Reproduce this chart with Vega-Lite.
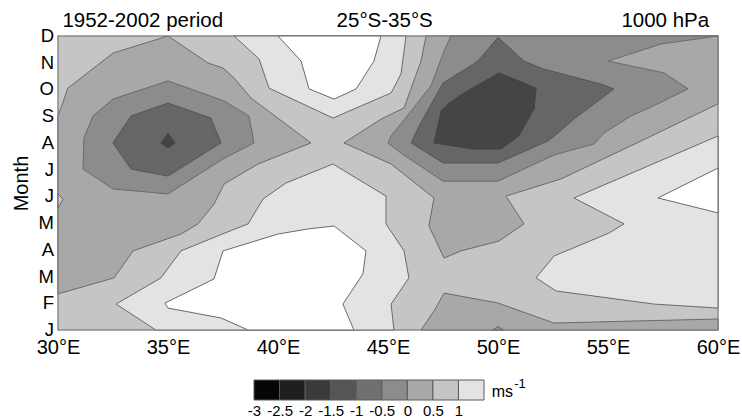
{
  "$schema": "https://vega.github.io/schema/vega-lite/v6.json",
  "padding": {"left": 10, "top": 10, "right": 2, "bottom": 2},
  "bounds": "flush",
  "spacing": 50,
  "config": {"font": "Liberation Sans", "background": "white", "axis": {"labelColor": "#000", "titleColor": "#000"}},
  "resolve": {"scale": {"x": "independent", "fill": "independent"}},
  "datasets": {
    "months": [
      {"m":0,"month":"J"},{"m":1,"month":"F"},{"m":2,"month":"M"},{"m":3,"month":"A"},
      {"m":4,"month":"M"},{"m":5,"month":"J"},{"m":6,"month":"J"},{"m":7,"month":"A"},
      {"m":8,"month":"S"},{"m":9,"month":"O"},{"m":10,"month":"N"},{"m":11,"month":"D"}
    ],
    "contours": [
      {"poly":"c3L","level":0,"i":0,"lon":30,"m":8},
      {"poly":"c3L","level":0,"i":1,"lon":30.45,"m":9.05},
      {"poly":"c3L","level":0,"i":2,"lon":32.5,"m":10.36},
      {"poly":"c3L","level":0,"i":3,"lon":35,"m":11},
      {"poly":"c3L","level":0,"i":4,"lon":36.82,"m":9.99},
      {"poly":"c3L","level":0,"i":5,"lon":37.5,"m":9.8},
      {"poly":"c3L","level":0,"i":6,"lon":38,"m":9.43},
      {"poly":"c3L","level":0,"i":7,"lon":38.77,"m":8.68},
      {"poly":"c3L","level":0,"i":8,"lon":41.5,"m":7.0},
      {"poly":"c3L","level":0,"i":9,"lon":39.09,"m":6.21},
      {"poly":"c3L","level":0,"i":10,"lon":37.55,"m":5.46},
      {"poly":"c3L","level":0,"i":11,"lon":37.09,"m":4.71},
      {"poly":"c3L","level":0,"i":12,"lon":36.36,"m":3.97},
      {"poly":"c3L","level":0,"i":13,"lon":35.59,"m":3.59},
      {"poly":"c3L","level":0,"i":14,"lon":33.41,"m":2.96},
      {"poly":"c3L","level":0,"i":15,"lon":32.55,"m":1.95},
      {"poly":"c3L","level":0,"i":16,"lon":30,"m":1.35},

      {"poly":"c3R","level":0,"i":0,"lon":46.73,"m":11},
      {"poly":"c3R","level":0,"i":1,"lon":46.5,"m":10.06},
      {"poly":"c3R","level":0,"i":2,"lon":45.73,"m":8.31},
      {"poly":"c3R","level":0,"i":3,"lon":44.68,"m":7.89},
      {"poly":"c3R","level":0,"i":4,"lon":43,"m":7.0},
      {"poly":"c3R","level":0,"i":5,"lon":45.14,"m":6.21},
      {"poly":"c3R","level":0,"i":6,"lon":47.09,"m":4.94},
      {"poly":"c3R","level":0,"i":7,"lon":46.86,"m":3.89},
      {"poly":"c3R","level":0,"i":8,"lon":47.55,"m":2.69},
      {"poly":"c3R","level":0,"i":9,"lon":48.32,"m":2.96},
      {"poly":"c3R","level":0,"i":10,"lon":50.05,"m":3.33},
      {"poly":"c3R","level":0,"i":11,"lon":51.18,"m":3.97},
      {"poly":"c3R","level":0,"i":12,"lon":50.36,"m":5.01},
      {"poly":"c3R","level":0,"i":13,"lon":52.86,"m":5.65},
      {"poly":"c3R","level":0,"i":14,"lon":56.5,"m":7.07},
      {"poly":"c3R","level":0,"i":15,"lon":60,"m":8.46},
      {"poly":"c3R","level":0,"i":16,"lon":60,"m":11},

      {"poly":"c3B","level":0,"i":0,"lon":46.5,"m":0},
      {"poly":"c3B","level":0,"i":1,"lon":47.09,"m":0.71},
      {"poly":"c3B","level":0,"i":2,"lon":47.55,"m":1.38},
      {"poly":"c3B","level":0,"i":3,"lon":50,"m":1.01},
      {"poly":"c3B","level":0,"i":4,"lon":52.55,"m":0.26},
      {"poly":"c3B","level":0,"i":5,"lon":56.36,"m":0.34},
      {"poly":"c3B","level":0,"i":6,"lon":60,"m":0.41},
      {"poly":"c3B","level":0,"i":7,"lon":60,"m":0},

      {"poly":"c1U","level":1,"i":0,"lon":38,"m":11},
      {"poly":"c1U","level":1,"i":1,"lon":39.14,"m":10.14},
      {"poly":"c1U","level":1,"i":2,"lon":39.59,"m":9.05},
      {"poly":"c1U","level":1,"i":3,"lon":42.5,"m":7.93},
      {"poly":"c1U","level":1,"i":4,"lon":45.14,"m":8.87},
      {"poly":"c1U","level":1,"i":5,"lon":45.59,"m":9.58},
      {"poly":"c1U","level":1,"i":6,"lon":45.82,"m":11},

      {"poly":"c1D","level":1,"i":0,"lon":34.45,"m":0},
      {"poly":"c1D","level":1,"i":1,"lon":32.64,"m":0.97},
      {"poly":"c1D","level":1,"i":2,"lon":34.68,"m":1.95},
      {"poly":"c1D","level":1,"i":3,"lon":35.59,"m":2.96},
      {"poly":"c1D","level":1,"i":4,"lon":37.59,"m":3.63},
      {"poly":"c1D","level":1,"i":5,"lon":38.64,"m":3.97},
      {"poly":"c1D","level":1,"i":6,"lon":39.32,"m":4.9},
      {"poly":"c1D","level":1,"i":7,"lon":40.36,"m":5.5},
      {"poly":"c1D","level":1,"i":8,"lon":42.5,"m":6.21},
      {"poly":"c1D","level":1,"i":9,"lon":44.91,"m":5.01},
      {"poly":"c1D","level":1,"i":10,"lon":44.91,"m":3.97},
      {"poly":"c1D","level":1,"i":11,"lon":45.73,"m":2.96},
      {"poly":"c1D","level":1,"i":12,"lon":45.95,"m":1.95},
      {"poly":"c1D","level":1,"i":13,"lon":45.14,"m":0.97},
      {"poly":"c1D","level":1,"i":14,"lon":45.27,"m":0},

      {"poly":"c1R","level":1,"i":0,"lon":60,"m":7.26},
      {"poly":"c1R","level":1,"i":1,"lon":53.45,"m":4.94},
      {"poly":"c1R","level":1,"i":2,"lon":55.73,"m":3.97},
      {"poly":"c1R","level":1,"i":3,"lon":55.05,"m":3.63},
      {"poly":"c1R","level":1,"i":4,"lon":52.55,"m":2.77},
      {"poly":"c1R","level":1,"i":5,"lon":51.73,"m":1.95},
      {"poly":"c1R","level":1,"i":6,"lon":52.64,"m":1.46},
      {"poly":"c1R","level":1,"i":7,"lon":57.09,"m":0.97},
      {"poly":"c1R","level":1,"i":8,"lon":60,"m":0.82},

      {"poly":"c4L","level":-0.5,"i":0,"lon":35,"m":9.32},
      {"poly":"c4L","level":-0.5,"i":1,"lon":37.55,"m":8.57},
      {"poly":"c4L","level":-0.5,"i":2,"lon":38.68,"m":8.01},
      {"poly":"c4L","level":-0.5,"i":3,"lon":38.91,"m":7.0},
      {"poly":"c4L","level":-0.5,"i":4,"lon":37.5,"m":6.4},
      {"poly":"c4L","level":-0.5,"i":5,"lon":35,"m":5.09},
      {"poly":"c4L","level":-0.5,"i":6,"lon":32.5,"m":5.28},
      {"poly":"c4L","level":-0.5,"i":7,"lon":31.14,"m":6.02},
      {"poly":"c4L","level":-0.5,"i":8,"lon":31.18,"m":7.18},
      {"poly":"c4L","level":-0.5,"i":9,"lon":31.59,"m":8.01},
      {"poly":"c4L","level":-0.5,"i":10,"lon":32.5,"m":8.64},

      {"poly":"c4R","level":-0.5,"i":0,"lon":47.86,"m":11},
      {"poly":"c4R","level":-0.5,"i":1,"lon":47.55,"m":10.44},
      {"poly":"c4R","level":-0.5,"i":2,"lon":46.95,"m":9.13},
      {"poly":"c4R","level":-0.5,"i":3,"lon":46.05,"m":8.19},
      {"poly":"c4R","level":-0.5,"i":4,"lon":45.14,"m":7.26},
      {"poly":"c4R","level":-0.5,"i":5,"lon":45,"m":7.0},
      {"poly":"c4R","level":-0.5,"i":6,"lon":45.59,"m":6.62},
      {"poly":"c4R","level":-0.5,"i":7,"lon":47.5,"m":5.57},
      {"poly":"c4R","level":-0.5,"i":8,"lon":50,"m":5.57},
      {"poly":"c4R","level":-0.5,"i":9,"lon":52.55,"m":6.55},
      {"poly":"c4R","level":-0.5,"i":10,"lon":54.36,"m":6.96},
      {"poly":"c4R","level":-0.5,"i":11,"lon":54.82,"m":7.37},
      {"poly":"c4R","level":-0.5,"i":12,"lon":56.05,"m":8.01},
      {"poly":"c4R","level":-0.5,"i":13,"lon":56.95,"m":8.34},
      {"poly":"c4R","level":-0.5,"i":14,"lon":58.64,"m":9.02},
      {"poly":"c4R","level":-0.5,"i":15,"lon":57.55,"m":9.62},
      {"poly":"c4R","level":-0.5,"i":16,"lon":55,"m":10.06},
      {"poly":"c4R","level":-0.5,"i":17,"lon":57.41,"m":10.7},
      {"poly":"c4R","level":-0.5,"i":18,"lon":60,"m":11},

      {"poly":"c4B","level":-0.5,"i":0,"lon":49.75,"m":0},
      {"poly":"c4B","level":-0.5,"i":1,"lon":50,"m":0.13},
      {"poly":"c4B","level":-0.5,"i":2,"lon":50.25,"m":0},

      {"poly":"wU","level":1.5,"i":0,"lon":40,"m":11},
      {"poly":"wU","level":1.5,"i":1,"lon":41.05,"m":10.06},
      {"poly":"wU","level":1.5,"i":2,"lon":41.41,"m":9.02},
      {"poly":"wU","level":1.5,"i":3,"lon":42.55,"m":8.64},
      {"poly":"wU","level":1.5,"i":4,"lon":43.55,"m":9.02},
      {"poly":"wU","level":1.5,"i":5,"lon":44.36,"m":10.06},
      {"poly":"wU","level":1.5,"i":6,"lon":44.68,"m":11},

      {"poly":"wD","level":1.5,"i":0,"lon":38.64,"m":0},
      {"poly":"wD","level":1.5,"i":1,"lon":37.41,"m":0.45},
      {"poly":"wD","level":1.5,"i":2,"lon":35,"m":0.82},
      {"poly":"wD","level":1.5,"i":3,"lon":34.86,"m":1.01},
      {"poly":"wD","level":1.5,"i":4,"lon":37.09,"m":1.91},
      {"poly":"wD","level":1.5,"i":5,"lon":37.5,"m":2.96},
      {"poly":"wD","level":1.5,"i":6,"lon":40,"m":3.59},
      {"poly":"wD","level":1.5,"i":7,"lon":41.36,"m":3.78},
      {"poly":"wD","level":1.5,"i":8,"lon":42.55,"m":3.89},
      {"poly":"wD","level":1.5,"i":9,"lon":44,"m":2.96},
      {"poly":"wD","level":1.5,"i":10,"lon":43.86,"m":2.1},
      {"poly":"wD","level":1.5,"i":11,"lon":42.95,"m":0.97},
      {"poly":"wD","level":1.5,"i":12,"lon":43.45,"m":0},

      {"poly":"wR","level":1.5,"i":0,"lon":60,"m":6.06},
      {"poly":"wR","level":1.5,"i":1,"lon":57.27,"m":4.94},
      {"poly":"wR","level":1.5,"i":2,"lon":60,"m":4.38},

      {"poly":"n2","level":0.5,"i":0,"lon":30,"m":5.09},
      {"poly":"n2","level":0.5,"i":1,"lon":30.23,"m":4.9},
      {"poly":"n2","level":0.5,"i":2,"lon":30,"m":4.56},

      {"poly":"c5L","level":-1,"i":0,"lon":35,"m":8.49},
      {"poly":"c5L","level":-1,"i":1,"lon":36.95,"m":7.93},
      {"poly":"c5L","level":-1,"i":2,"lon":37.41,"m":7.0},
      {"poly":"c5L","level":-1,"i":3,"lon":35,"m":5.76},
      {"poly":"c5L","level":-1,"i":4,"lon":33.32,"m":6.02},
      {"poly":"c5L","level":-1,"i":5,"lon":32.5,"m":7.0},
      {"poly":"c5L","level":-1,"i":6,"lon":33.32,"m":8.01},

      {"poly":"c5R","level":-1,"i":0,"lon":50,"m":10.95},
      {"poly":"c5R","level":-1,"i":1,"lon":51.18,"m":10.06},
      {"poly":"c5R","level":-1,"i":2,"lon":52.09,"m":9.76},
      {"poly":"c5R","level":-1,"i":3,"lon":54.68,"m":9.2},
      {"poly":"c5R","level":-1,"i":4,"lon":55.27,"m":9.02},
      {"poly":"c5R","level":-1,"i":5,"lon":53.45,"m":7.89},
      {"poly":"c5R","level":-1,"i":6,"lon":52.73,"m":7.37},
      {"poly":"c5R","level":-1,"i":7,"lon":52.27,"m":7.07},
      {"poly":"c5R","level":-1,"i":8,"lon":50,"m":6.25},
      {"poly":"c5R","level":-1,"i":9,"lon":47.5,"m":6.25},
      {"poly":"c5R","level":-1,"i":10,"lon":46.05,"m":7.0},
      {"poly":"c5R","level":-1,"i":11,"lon":46.41,"m":7.63},
      {"poly":"c5R","level":-1,"i":12,"lon":47.5,"m":9.24},
      {"poly":"c5R","level":-1,"i":13,"lon":49.09,"m":10.06},

      {"poly":"c6L","level":-1.5,"i":0,"lon":35,"m":7.37},
      {"poly":"c6L","level":-1.5,"i":1,"lon":35.32,"m":7.0},
      {"poly":"c6L","level":-1.5,"i":2,"lon":35,"m":6.81},
      {"poly":"c6L","level":-1.5,"i":3,"lon":34.68,"m":7.0},

      {"poly":"c6R","level":-1.5,"i":0,"lon":50.05,"m":9.62},
      {"poly":"c6R","level":-1.5,"i":1,"lon":51.73,"m":9.05},
      {"poly":"c6R","level":-1.5,"i":2,"lon":51.64,"m":8.27},
      {"poly":"c6R","level":-1.5,"i":3,"lon":50.95,"m":7.26},
      {"poly":"c6R","level":-1.5,"i":4,"lon":50.14,"m":6.77},
      {"poly":"c6R","level":-1.5,"i":5,"lon":48.86,"m":6.77},
      {"poly":"c6R","level":-1.5,"i":6,"lon":47.09,"m":7.0},
      {"poly":"c6R","level":-1.5,"i":7,"lon":47.41,"m":8.19},
      {"poly":"c6R","level":-1.5,"i":8,"lon":47.73,"m":8.46},
      {"poly":"c6R","level":-1.5,"i":9,"lon":48.45,"m":8.87}
    ]
  },
  "vconcat": [
    {
      "width": 660,
      "height": 294,
      "view": {"fill": "#c5c5c5", "stroke": "#8a8a8a", "strokeWidth": 1.5},
      "layer": [
        {
          "data": {"name": "contours"},
          "transform": [{"filter": "datum.level == 0 || datum.level == 1"}],
          "mark": {"type": "line", "interpolate": "linear-closed", "stroke": "#6a6a6a", "strokeWidth": 1},
          "encoding": {
            "x": {"field": "lon", "type": "quantitative", "scale": {"domain": [30, 60], "nice": false, "zero": false},
                  "axis": {"values": [30, 35, 40, 45, 50, 55, 60], "labelExpr": "datum.value + '°E'", "title": null, "ticks": false, "domain": false, "grid": false, "labelFontSize": 20, "labelPadding": 7, "labelFlush": false, "labelOverlap": false}},
            "y": {"field": "m", "type": "quantitative", "scale": {"domain": [0, 11], "nice": false, "zero": false},
                  "axis": {"values": [0, 11], "labels": false, "title": "Month", "titleFontSize": 20, "titleFontWeight": "normal", "titlePadding": 27, "ticks": false, "domain": false, "grid": false}},
            "detail": {"field": "poly"},
            "order": {"field": "i"},
            "fill": {"field": "level", "type": "ordinal", "scale": {"domain": [-1.5, -1, -0.5, 0, 0.5, 1, 1.5], "range": ["#454545", "#666666", "#8c8c8c", "#a8a8a8", "#c5c5c5", "#e3e3e3", "#ffffff"]}, "legend": null}
          }
        },
        {
          "data": {"name": "contours"},
          "transform": [{"filter": "datum.level == -0.5 || datum.level == 1.5 || datum.level == 0.5"}],
          "mark": {"type": "line", "interpolate": "linear-closed", "stroke": "#6a6a6a", "strokeWidth": 1},
          "encoding": {
            "x": {"field": "lon", "type": "quantitative"},
            "y": {"field": "m", "type": "quantitative"},
            "detail": {"field": "poly"},
            "order": {"field": "i"},
            "fill": {"field": "level", "type": "ordinal", "legend": null}
          }
        },
        {
          "data": {"name": "contours"},
          "transform": [{"filter": "datum.level == -1"}],
          "mark": {"type": "line", "interpolate": "linear-closed", "stroke": "#555555", "strokeWidth": 1},
          "encoding": {
            "x": {"field": "lon", "type": "quantitative"},
            "y": {"field": "m", "type": "quantitative"},
            "detail": {"field": "poly"},
            "order": {"field": "i"},
            "fill": {"field": "level", "type": "ordinal", "legend": null}
          }
        },
        {
          "data": {"name": "contours"},
          "transform": [{"filter": "datum.level == -1.5"}],
          "mark": {"type": "line", "interpolate": "linear-closed", "stroke": "#444444", "strokeWidth": 1},
          "encoding": {
            "x": {"field": "lon", "type": "quantitative"},
            "y": {"field": "m", "type": "quantitative"},
            "detail": {"field": "poly"},
            "order": {"field": "i"},
            "fill": {"field": "level", "type": "ordinal", "legend": null}
          }
        },
        {
          "data": {"name": "months"},
          "mark": {"type": "text", "align": "right", "baseline": "middle", "fontSize": 18.5, "color": "#000", "dx": -4},
          "encoding": {"x": {"datum": 30}, "y": {"field": "m", "type": "quantitative"}, "text": {"field": "month"}}
        },
        {
          "data": {"values": [{"label": "1952-2002 period"}]},
          "mark": {"type": "text", "align": "left", "baseline": "alphabetic", "fontSize": 20.5, "color": "#000"},
          "encoding": {"x": {"datum": 30.2}, "y": {"datum": 11.34}, "text": {"field": "label"}}
        },
        {
          "data": {"values": [{"label": "25°S-35°S"}]},
          "mark": {"type": "text", "align": "center", "baseline": "alphabetic", "fontSize": 20.5, "color": "#000"},
          "encoding": {"x": {"datum": 44.85}, "y": {"datum": 11.34}, "text": {"field": "label"}}
        },
        {
          "data": {"values": [{"label": "1000 hPa"}]},
          "mark": {"type": "text", "align": "right", "baseline": "alphabetic", "fontSize": 20.5, "color": "#000"},
          "encoding": {"x": {"datum": 59.6}, "y": {"datum": 11.34}, "text": {"field": "label"}}
        }
      ]
    },
    {
      "width": 660,
      "height": 20,
      "view": {"stroke": null},
      "layer": [
        {
          "data": {"values": [
            {"lo": -3, "hi": -2.5}, {"lo": -2.5, "hi": -2}, {"lo": -2, "hi": -1.5},
            {"lo": -1.5, "hi": -1}, {"lo": -1, "hi": -0.5}, {"lo": -0.5, "hi": 0},
            {"lo": 0, "hi": 0.5}, {"lo": 0.5, "hi": 1}, {"lo": 1, "hi": 1.5}
          ]},
          "mark": {"type": "rect", "stroke": "#5a5a5a", "strokeWidth": 1},
          "encoding": {
            "x": {"field": "lo", "type": "quantitative", "scale": {"domain": [-6.835, 6.078], "nice": false, "zero": false},
                  "axis": {"values": [-3, -2.5, -2, -1.5, -1, -0.5, 0, 0.5, 1], "labelExpr": "toString(datum.value)", "title": null, "ticks": false, "domain": false, "grid": false, "labelFontSize": 15, "labelPadding": 3, "labelFlush": false, "labelOverlap": false}},
            "x2": {"field": "hi"},
            "fill": {"field": "lo", "type": "ordinal", "scale": {"domain": [-3, -2.5, -2, -1.5, -1, -0.5, 0, 0.5, 1], "range": ["#050505", "#1e1e1e", "#3a3a3a", "#555555", "#707070", "#8c8c8c", "#a8a8a8", "#c5c5c5", "#e3e3e3"]}, "legend": null}
          }
        },
        {
          "data": {"values": [{"unit": "ms"}]},
          "mark": {"type": "text", "align": "left", "baseline": "middle", "fontSize": 16, "color": "#000", "dy": 2},
          "encoding": {"x": {"datum": 1.65}, "text": {"field": "unit"}}
        },
        {
          "data": {"values": [{"unit": "-1"}]},
          "mark": {"type": "text", "align": "left", "baseline": "middle", "fontSize": 13, "color": "#000", "dy": -6},
          "encoding": {"x": {"datum": 2.09}, "text": {"field": "unit"}}
        }
      ]
    }
  ]
}
